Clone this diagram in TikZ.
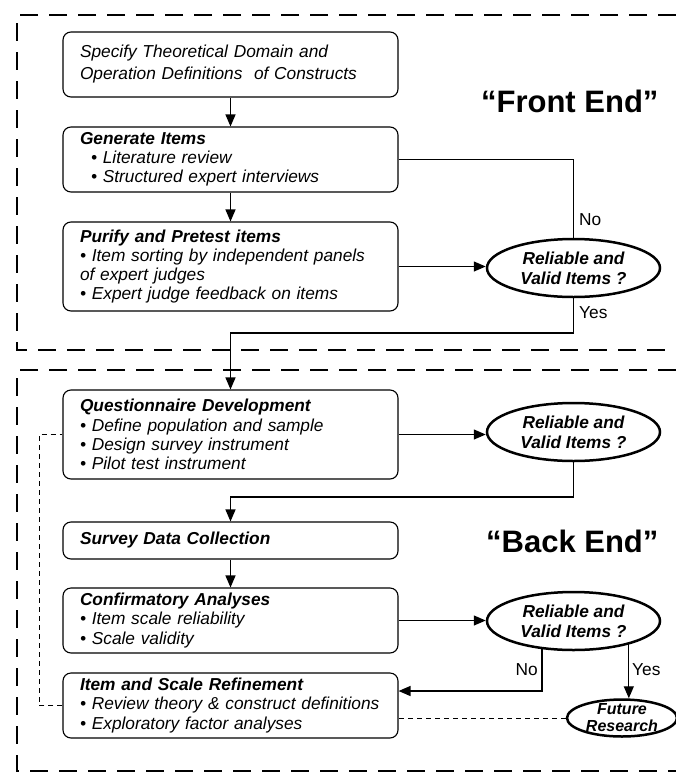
\documentclass[tikz,border=0pt]{standalone}
\usepackage{fontspec}
\setmainfont{Liberation Sans}
\usepackage{tikz}
\usetikzlibrary{arrows.meta,calc,positioning,shapes.geometric}

\tikzset{
  stepbox/.style={draw, rounded corners=8pt, line width=1.1pt, minimum width=335pt,
    text width=301pt, inner xsep=17pt, inner ysep=0pt, align=left,
    font=\fontsize{17.3}{19.2}\selectfont\itshape},
  decision/.style={draw, ellipse, line width=2.5pt, inner sep=0pt, minimum width=173pt,
    minimum height=58pt, align=center, font=\fontsize{17.3}{20}\selectfont\bfseries\itshape},
  futurebox/.style={draw, ellipse, line width=2.5pt, inner xsep=0pt, inner ysep=-5pt,
    minimum width=110pt, minimum height=37pt, align=center,
    font=\fontsize{16}{17}\selectfont\bfseries\itshape},
  zoneframe/.style={line width=2.5pt, dash pattern=on 18pt off 11pt},
  flow/.style={line width=1.3pt},
  flowarrow/.style={flow, -{Triangle[length=12pt,width=10pt]}},
  feedback/.style={line width=0.9pt, dash pattern=on 5pt off 4pt},
  endlabel/.style={font=\fontsize{31}{36}\selectfont\bfseries},
  answer/.style={font=\fontsize{17.3}{20}\selectfont, inner sep=1pt}
}

\begin{document}
\begin{tikzpicture}[x=1pt,y=-1pt]
      \useasboundingbox (0,0) rectangle (676,772);
      % Dashed zones
      \draw[zoneframe] (676,15) -- (17,15) -- (17,350) -- (676,350);
      \draw[zoneframe] (676,370) -- (17,370) -- (17,771) -- (676,771);
      \node[endlabel, anchor=east] (front) at (662,101) {“Front End”};
      \node[endlabel, anchor=east] (back) at (662,541) {“Back End”};

      % Front end steps
      \node[stepbox, minimum height=65pt, font=\fontsize{17.3}{22}\selectfont\itshape] (domain) at (230.5,64.5)
        {Specify Theoretical Domain and\\Operation Definitions~ of Constructs};
      \node[stepbox, minimum height=65pt] (generate) at (230.5,159.5)
        {\textbf{Generate Items}\\\hspace*{11pt}• Literature review\\\hspace*{11pt}• Structured expert interviews};
      \node[stepbox, minimum height=89pt] (purify) at (230.5,266.5)
        {\textbf{Purify and Pretest items}\\• Item sorting by independent panels\\of expert judges\\• Expert judge feedback on items};
      \node[decision] (check1) at (573.5,268) {Reliable and\\Valid Items ?};

      % Back end steps
      \node[stepbox, minimum height=89pt] (questionnaire) at (230.5,434.5)
        {\textbf{Questionnaire Development}\\• Define population and sample\\• Design survey instrument\\• Pilot test instrument};
      \node[decision] (check2) at (573.5,432) {Reliable and\\Valid Items ?};
      \node[stepbox, minimum height=37pt] (survey) at (230.5,540.5)
        {\textbf{Survey Data Collection}};
      \node[stepbox, minimum height=65pt] (confirm) at (230.5,620.5)
        {\textbf{Confirmatory Analyses}\\• Item scale reliability\\• Scale validity};
      \node[decision] (check3) at (573.5,621) {Reliable and\\Valid Items ?};
      \node[stepbox, minimum height=65pt] (refine) at (230.5,705.5)
        {\textbf{Item and Scale Refinement}\\• Review theory \& construct definitions\\• Exploratory factor analyses};
      \node[futurebox] (future) at (622,718) {Future\\Research};

      % Turning points
      \coordinate (yes1turn) at (573.5,333);
      \coordinate (pass2turn) at (573.5,497);
      \coordinate (no3turn) at (543,691);
      \coordinate (fbcol) at (39,705.5);

      % Connectors
      \draw[flowarrow] (domain) -- (generate);
      \draw[flowarrow] (generate) -- (purify);
      \draw[flow] (generate.east) -| (check1.north);
      \draw[flowarrow] (purify.east) -- (purify.east -| check1.west);
      \draw[flowarrow] (check1.south) -- (yes1turn) -| (questionnaire.north);
      \draw[flowarrow] (questionnaire.east) -- (questionnaire.east -| check2.west);
      \draw[flowarrow] (check2.south) -- (pass2turn) -| (survey.north);
      \draw[flowarrow] (survey) -- (confirm);
      \draw[flowarrow] (confirm.east) -- (confirm.east -| check3.west);
      \draw[flowarrow] (check3.222) |- (refine.east |- no3turn);
      \draw[flowarrow] (check3.337) -- (check3.337 |- future.north);
      \node[answer, anchor=west] (no1) at (578,220) {No};
      \node[answer, anchor=west] (yes1) at (578,313) {Yes};
      \node[answer, anchor=east] (no3) at (539,670) {No};
      \node[answer, anchor=west] (yes3) at (631,670) {Yes};

      % Feedback paths
      \draw[feedback] (future.west) -- (future.west -| refine.east);
      \draw[feedback] (refine.west) -- (refine.west -| fbcol) |- (questionnaire.west);
\end{tikzpicture}
\end{document}
